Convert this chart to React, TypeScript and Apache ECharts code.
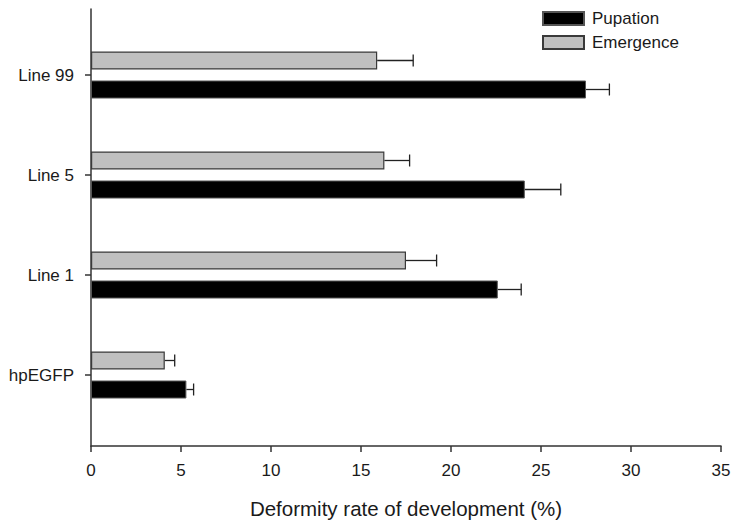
import React, { useEffect, useRef } from "react";
import * as echarts from "echarts";

const categories = ["hpEGFP", "Line 1", "Line 5", "Line 99"];
const pupation = [5.3, 22.6, 24.1, 27.5];
const pupationErr = [0.4, 1.3, 2.0, 1.3];
const emergence = [4.1, 17.5, 16.3, 15.9];
const emergenceErr = [0.55, 1.7, 1.4, 2.0];
const xTicks = { min: 0, max: 35, interval: 5 };

const FONT = "Liberation Sans, Arial, Helvetica, sans-serif";
const BAR_W = 18;
const BAR_GAP = 11;
const AXIS_COLOR = "#333";
const TEXT_COLOR = "#1a1a1a";

export default function App() {
  const ref = useRef<HTMLDivElement>(null);
  useEffect(() => {
    if (!ref.current) return;
    const chart = echarts.init(ref.current, undefined, { renderer: "svg" });
    const half = (BAR_W + BAR_GAP) / 2;
    const errData: number[][] = [];
    categories.forEach((_, i) => {
      errData.push([i, emergence[i], emergenceErr[i], -1]);
      errData.push([i, pupation[i], pupationErr[i], 1]);
    });
    chart.setOption({
      animation: false,
      backgroundColor: "#fff",
      textStyle: { fontFamily: FONT },
      grid: [
        { left: 91, width: 630, top: 25, height: 400, containLabel: false },
        { left: 91, width: 630, top: 9, height: 437, containLabel: false },
      ],
      legend: {
        data: ["Pupation", "Emergence"],
        orient: "vertical",
        left: 542,
        top: 10,
        padding: 0,
        itemWidth: 41,
        itemHeight: 13,
        itemGap: 7,
        icon: "rect",
        textStyle: { fontSize: 17, color: TEXT_COLOR, fontFamily: FONT, padding: [0, 0, 0, 3] },
      },
      xAxis: [
        { type: "value", gridIndex: 0, ...xTicks, show: false },
        {
          type: "value",
          gridIndex: 1,
          ...xTicks,
          axisLine: { show: true, lineStyle: { color: AXIS_COLOR, width: 1.5 } },
          axisTick: { show: true, length: 6, lineStyle: { color: AXIS_COLOR, width: 1.5 } },
          axisLabel: { fontSize: 17, color: TEXT_COLOR, margin: 16, fontFamily: FONT },
          splitLine: { show: false },
          name: "Deformity rate of development (%)",
          nameLocation: "middle",
          nameGap: 52,
          nameTextStyle: { fontSize: 20.5, color: TEXT_COLOR, fontFamily: FONT },
        },
      ],
      yAxis: [
        {
          type: "category",
          gridIndex: 0,
          data: categories,
          axisLine: { show: false },
          axisTick: { show: true, alignWithLabel: true, length: 6, lineStyle: { color: AXIS_COLOR, width: 1.5 } },
          axisLabel: { fontSize: 17, color: TEXT_COLOR, margin: 17, fontFamily: FONT },
          splitLine: { show: false },
        },
        {
          type: "value",
          gridIndex: 1,
          min: 0,
          max: 1,
          axisLine: { show: true, lineStyle: { color: AXIS_COLOR, width: 1.5 } },
          axisTick: { show: false },
          axisLabel: { show: false },
          splitLine: { show: false },
        },
      ],
      series: [
        {
          name: "Emergence",
          type: "bar",
          xAxisIndex: 0,
          yAxisIndex: 0,
          data: emergence,
          barWidth: BAR_W,
          barGap: `${(BAR_GAP / BAR_W) * 100}%`,
          itemStyle: { color: "#c0c0c0", borderColor: "#3a3a3a", borderWidth: 1.2 },
        },
        {
          name: "Pupation",
          type: "bar",
          xAxisIndex: 0,
          yAxisIndex: 0,
          data: pupation,
          barWidth: BAR_W,
          barGap: `${(BAR_GAP / BAR_W) * 100}%`,
          itemStyle: { color: "#000", borderColor: "#555", borderWidth: 1 },
        },
        {
          name: "err",
          type: "custom",
          xAxisIndex: 0,
          yAxisIndex: 0,
          z: 5,
          data: errData,
          encode: { x: [1, 2], y: 0 },
          renderItem: (params: any, api: any) => {
            const cat = api.value(0);
            const v = api.value(1);
            const e = api.value(2);
            const side = api.value(3);
            const p0 = api.coord([v, cat]);
            const p1 = api.coord([v + e, cat]);
            const y = p0[1] + side * half;
            const style = { stroke: "#222", lineWidth: 1.3, fill: "none" };
            return {
              type: "group",
              children: [
                { type: "line", shape: { x1: p0[0], y1: y, x2: p1[0], y2: y }, style },
                { type: "line", shape: { x1: p1[0], y1: y - 6, x2: p1[0], y2: y + 6 }, style },
              ],
            };
          },
        },
      ],
    });
    return () => chart.dispose();
  }, []);
  return (
    <div
      ref={ref}
      style={{ position: "fixed", left: 0, top: 0, width: 738, height: 525, background: "#fff" }}
    />
  );
}
